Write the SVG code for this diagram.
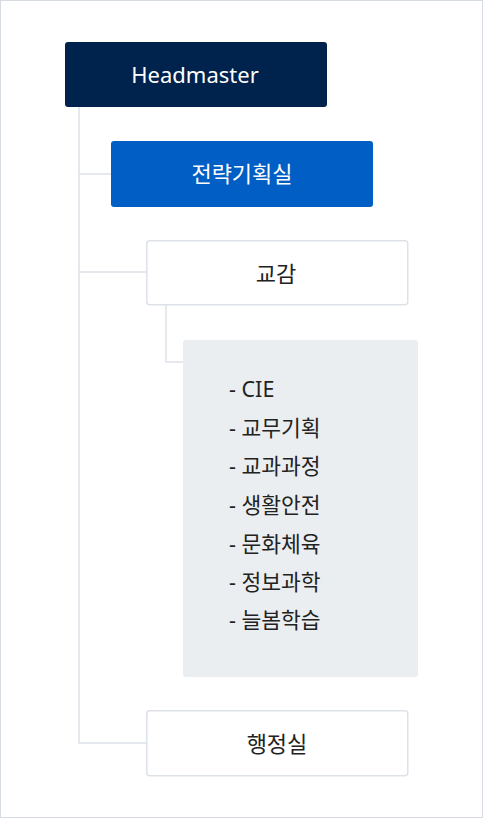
<svg xmlns="http://www.w3.org/2000/svg" width="483" height="818" viewBox="0 0 483 818">
<style>
.t{font-family:"Noto Sans","Noto Sans CJK KR",sans-serif;font-size:22px;text-anchor:middle}
.l{font-family:"Noto Sans","Noto Sans CJK KR",sans-serif;font-size:21.5px;fill:#222}
.c{fill:none;stroke:#DDE2E8;stroke-width:1.5}
.w{fill:#fff;stroke:#DDE2E8;stroke-width:1.5}
</style>
<rect x="0.5" y="0.5" width="482" height="817" fill="#fff" stroke="#D5DBE1"/>
<g id="connectors">
<path class="c" d="M79 107V743H146M79 174H111M79 272H146"/>
<path class="c" d="M166 305V362H183"/>
</g>
<g id="headmaster">
<rect x="65" y="42" width="262" height="65" rx="3" fill="#00234D"/>
<text class="t" x="195" y="83" fill="#fff">Headmaster</text>
</g>
<g id="strategy">
<rect x="111" y="141" width="262" height="66" rx="3" fill="#005EC4"/>
<text class="t" x="242" y="182" fill="#fff">전략기획실</text>
</g>
<g id="vice">
<rect class="w" x="146.75" y="240.75" width="261" height="64" rx="3"/>
<text class="t" x="276" y="282" fill="#222">교감</text>
</g>
<g id="depts">
<rect x="183" y="340" width="235" height="337" rx="3" fill="#EBEEF1"/>
<text class="l" x="229" y="397">- CIE</text>
<text class="l" x="229" y="436">- 교무기획</text>
<text class="l" x="229" y="474">- 교과과정</text>
<text class="l" x="229" y="513">- 생활안전</text>
<text class="l" x="229" y="552">- 문화체육</text>
<text class="l" x="229" y="590">- 정보과학</text>
<text class="l" x="229" y="628">- 늘봄학습</text>
</g>
<g id="admin">
<rect class="w" x="146.75" y="710.75" width="261" height="65" rx="3"/>
<text class="t" x="277" y="752" fill="#222">행정실</text>
</g>
</svg>
